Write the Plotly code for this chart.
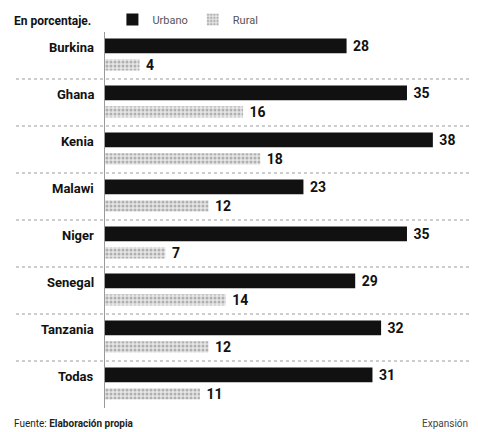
import plotly.graph_objects as go

paises = ['Burkina', 'Ghana', 'Kenia', 'Malawi', 'Niger', 'Senegal', 'Tanzania', 'Todas']
urbano = [28, 35, 38, 23, 35, 29, 32, 31]
rural = [4, 16, 18, 12, 7, 14, 12, 11]

FONT = "Roboto, Liberation Sans, sans-serif"

fig = go.Figure()
fig.add_trace(go.Bar(
    y=paises, x=urbano, name='Urbano', orientation='h',
    width=0.31, offset=-0.36,
    marker=dict(color='#111111', line=dict(width=0)),
    texttemplate='&nbsp;<b>%{x}</b>', textposition='outside', cliponaxis=False, constraintext='none',
    textfont=dict(family=FONT, size=14, color='#111111'),
))
fig.add_trace(go.Bar(
    y=paises, x=rural, name='Rural', orientation='h',
    width=0.24, offset=0.08,
    marker=dict(color='#d9d9d9', line=dict(width=0),
                pattern=dict(shape='.', fgcolor='#7a7a7a', bgcolor='#e6e6e6', size=4, solidity=0.45)),
    texttemplate='&nbsp;<b>%{x}</b>', textposition='outside', cliponaxis=False, constraintext='none',
    textfont=dict(family=FONT, size=14, color='#111111'),
))

# country names, sitting a bit above the group centre like in the paper
for p in paises:
    fig.add_annotation(text='<b>' + p + '</b>', xref='paper', yref='y', x=0, y=p,
                       xanchor='right', xshift=-9, yshift=8, showarrow=False,
                       font=dict(family=FONT, size=13, color='#111111'))

# dotted separators between countries
for i in range(len(paises) - 1):
    fig.add_shape(type='line', xref='paper', yref='y', x0=-0.24, x1=1.0, y0=i + 0.5, y1=i + 0.5,
                  line=dict(color='#9a9a9a', width=1, dash='dot'))

fig.add_annotation(text='<b>En porcentaje.</b>', xref='paper', yref='paper', x=-0.25, y=1.005,
                   xanchor='left', yanchor='bottom', showarrow=False,
                   font=dict(family=FONT, size=12, color='#111111'))
fig.add_annotation(text='Fuente: <b>Elaboración propia</b>', xref='paper', yref='paper', x=-0.25, y=-0.02,
                   xanchor='left', yanchor='top', showarrow=False,
                   font=dict(family=FONT, size=10, color='#222222'))
fig.add_annotation(text='Expansión', xref='paper', yref='paper', x=0.985, y=-0.02,
                   xanchor='right', yanchor='top', showarrow=False,
                   font=dict(family=FONT, size=10, color='#444444'))

fig.update_layout(
    width=478, height=432,
    margin=dict(l=97, r=10, t=24, b=32, autoexpand=False),
    paper_bgcolor='white', plot_bgcolor='white',
    barmode='overlay',
    showlegend=True,
    legend=dict(orientation='h', x=0.02, y=0.995, xanchor='left', yanchor='bottom',
                font=dict(family=FONT, size=11, color='#555555'), itemwidth=30,
                traceorder='normal'),
    font=dict(family=FONT),
)
fig.update_xaxes(range=[0, 43], showgrid=False, showticklabels=False, zeroline=False,
                 showline=False, ticks='')
fig.update_yaxes(autorange='reversed', showgrid=False, showline=True, linecolor='#9a9a9a', linewidth=1,
                 ticks='', showticklabels=False)

fig.write_html("out.html")
